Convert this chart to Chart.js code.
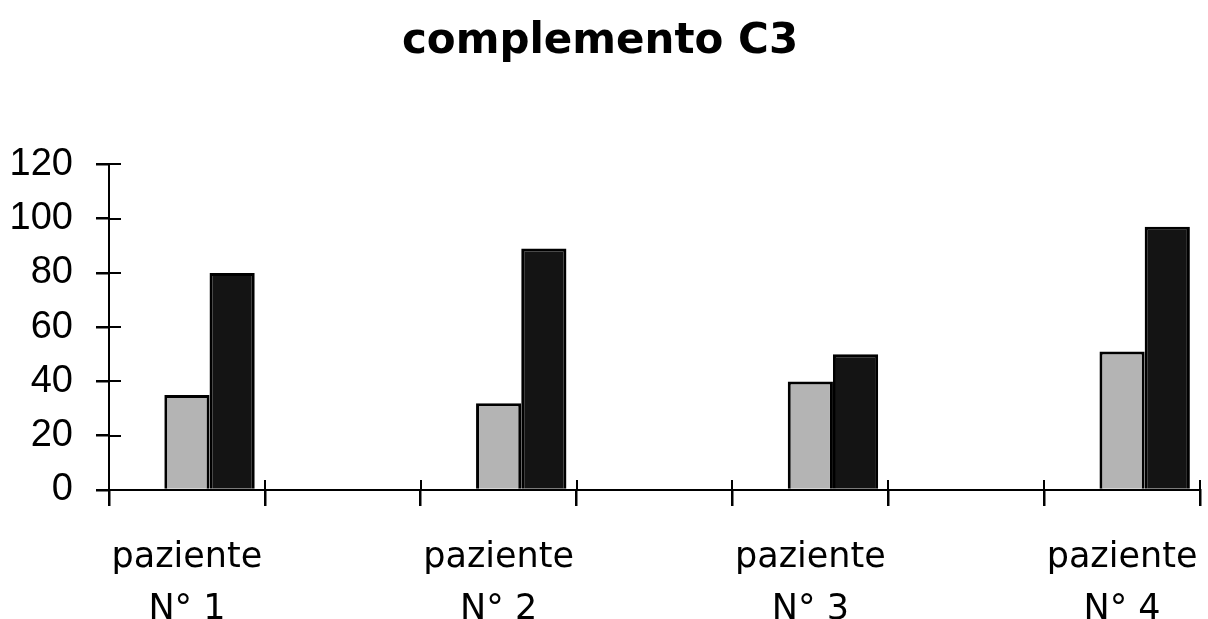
<!DOCTYPE html>
<html>
<head>
<meta charset="utf-8">
<script src="https://cdn.jsdelivr.net/npm/chart.js@4/dist/chart.umd.min.js"></script>
<style>
html,body{margin:0;padding:0;background:#fff;}
#wrap{width:1208px;height:619px;}
</style>
</head>
<body>
<div id="wrap"><canvas id="c" width="1208" height="619"></canvas></div>
<script>
// Categories (empty spacer categories reproduce the original's axis divisions)
const categories = [["paziente","N° 1"], "", ["paziente","N° 2"], "", ["paziente","N° 3"], "", ["paziente","N° 4"]];
const seriesGrey  = [35, null, 32, null, 40, null, 51];
const seriesBlack = [80, null, 89, null, 50, null, 97];
const spacerSeries = [null, null, null, null, null, null, null];
const yTicks = [0, 20, 40, 60, 80, 100, 120];
const titleText = "complemento C3";

const innerTicks = {
  id: 'innerTicks',
  afterDraw(chart) {
    const {ctx, scales: {x, y}} = chart;
    ctx.save();
    ctx.strokeStyle = '#000';
    ctx.lineWidth = 2;
    y.ticks.forEach((t, i) => {
      const py = Math.round(y.getPixelForTick(i));
      ctx.beginPath();
      ctx.moveTo(y.right, py);
      ctx.lineTo(y.right + 12, py);
      ctx.stroke();
    });
    for (let i = 0; i <= categories.length; i++) {
      const px = Math.round(x.getPixelForValue(i - 0.5));
      ctx.beginPath();
      ctx.moveTo(px, x.top);
      ctx.lineTo(px, x.top - 10);
      ctx.stroke();
    }
    ctx.restore();
  }
};

new Chart(document.getElementById('c'), {
  type: 'bar',
  data: {
    labels: categories,
    datasets: [
      {label: '', data: spacerSeries, backgroundColor: 'rgba(0,0,0,0)', borderWidth: 0},
      {label: 'grey', data: seriesGrey, backgroundColor: '#b4b4b4', borderColor: '#000', borderWidth: 3},
      {label: 'black', data: seriesBlack, backgroundColor: '#141414', borderColor: '#000', borderWidth: 3}
    ]
  },
  options: {
    responsive: false,
    animation: false,
    layout: {padding: {left: 0, right: 8, top: 0, bottom: 0}},
    datasets: {bar: {categoryPercentage: 0.87, barPercentage: 1.0}},
    plugins: {
      legend: {display: false},
      tooltip: {enabled: false},
      title: {
        display: true,
        text: titleText,
        color: '#000',
        font: {family: 'DejaVu Sans', size: 42, weight: 'bold', lineHeight: 1.2},
        padding: {top: 17, bottom: 97}
      }
    },
    scales: {
      x: {
        offset: true,
        grid: {offset: true, drawOnChartArea: false, color: '#000', tickLength: 16, tickWidth: 2.5, lineWidth: 2.5},
        border: {display: true, color: '#000', width: 2},
        ticks: {color: '#000', font: {family: 'DejaVu Sans', size: 35, lineHeight: 1.48}, padding: 26, maxRotation: 0, autoSkip: false},
        afterFit(s) { s.height = 129; s.paddingLeft = 0; s.paddingRight = 0; }
      },
      y: {
        min: 0, max: 120,
        afterBuildTicks(s) { s.ticks = yTicks.map(v => ({value: v})); },
        grid: {drawOnChartArea: false, color: '#000', tickLength: 13, tickWidth: 2.5, lineWidth: 2.5},
        border: {display: true, color: '#000', width: 2},
        ticks: {color: '#000', font: {family: "'Liberation Sans'", size: 38}, padding: 23},
        afterFit(s) { s.width = 109; }
      }
    }
  },
  plugins: [innerTicks]
});
</script>
</body>
</html>
